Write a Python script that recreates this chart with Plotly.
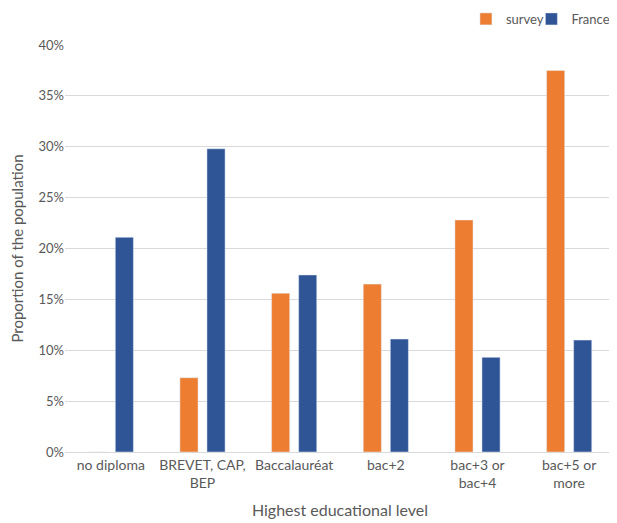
import plotly.graph_objects as go

categories = ["no diploma", "BREVET, CAP,<br>BEP", "Baccalauréat", "bac+2", "bac+3 or<br>bac+4", "bac+5 or<br>more"]
survey = [0, 7.3, 15.6, 16.5, 22.8, 37.5]
france = [21.1, 29.8, 17.4, 11.1, 9.3, 11.0]

font_family = "Lato, Open Sans, sans-serif"
text_color = "#595959"

fig = go.Figure()
fig.add_trace(go.Bar(name="survey", x=categories, y=survey, marker_color="#ED7D31",
                     legend="legend", showlegend=True))
fig.add_trace(go.Bar(name="France", x=categories, y=france, marker_color="#2F5597",
                     legend="legend2", showlegend=True))

legend_common = dict(orientation="h", xanchor="left", y=1.064, yanchor="middle",
                     font=dict(size=13, color=text_color), itemwidth=30,
                     bgcolor="rgba(0,0,0,0)", visible=True)

fig.update_layout(
    width=609, height=515,
    margin=dict(l=57, r=2, t=37, b=71, autoexpand=False),
    paper_bgcolor="white", plot_bgcolor="white",
    showlegend=True,
    barmode="group", bargap=0.41, bargroupgap=0.33,
    font=dict(family=font_family, size=13, color=text_color),
    legend=dict(x=0.729, **legend_common),
    legend2=dict(x=0.848, **legend_common),
    xaxis=dict(title=dict(text="Highest educational level", font=dict(size=16, color=text_color), standoff=14),
               tickfont=dict(size=14, color=text_color), showline=True, linecolor="#D9D9D9",
               ticks=""),
    yaxis=dict(title=dict(text="Proportion of the population", font=dict(size=15, color=text_color), standoff=19),
               range=[0, 40], dtick=5, ticksuffix="%", gridcolor="#D9D9D9", zeroline=False,
               tickfont=dict(size=13, color=text_color)),
)

fig.write_html("out.html")
